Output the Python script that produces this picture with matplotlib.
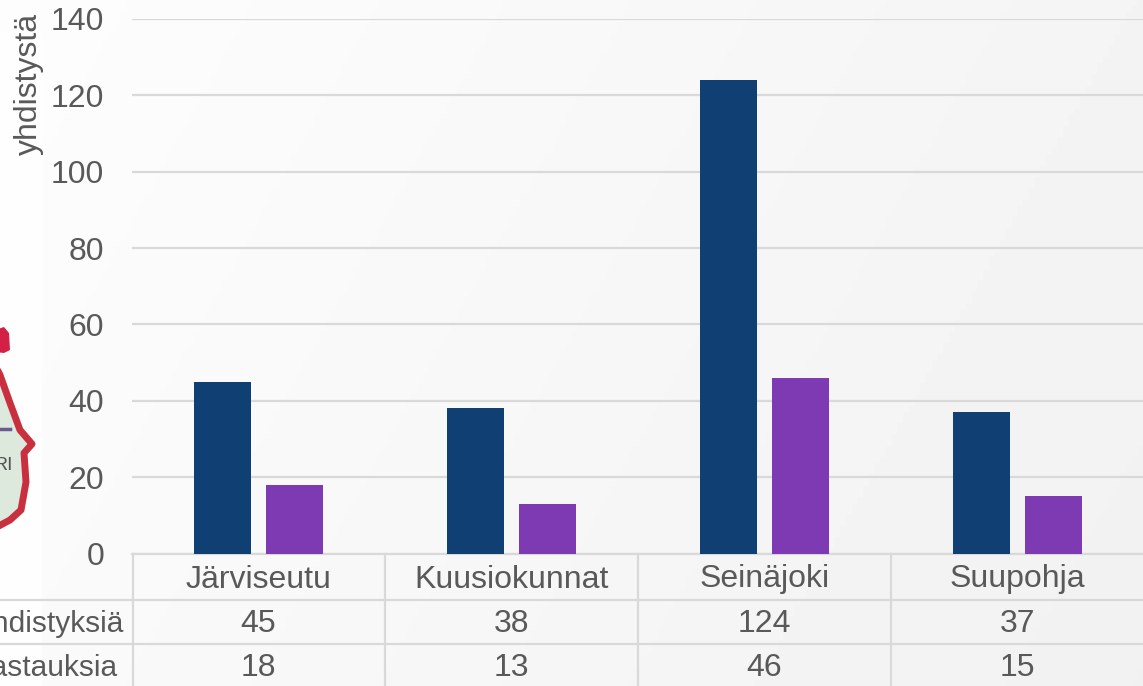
#!/usr/bin/env python3
import matplotlib
matplotlib.use("Agg")
import matplotlib.pyplot as plt
import numpy as np

W, H = 1143, 686

categories = ["Järviseutu", "Kuusiokunnat", "Seinäjoki", "Suupohja"]
series_names = ["Yhdistyksiä", "Vastauksia"]
yhdistyksia = [45, 38, 124, 37]
vastauksia = [18, 13, 46, 15]
y_ticks = [0, 20, 40, 60, 80, 100, 120, 140]

NAVY = "#0F3F73"
PURPLE = "#7D3AB2"
TEXT = "#595959"
GRID = "#D9D9D9"
FONT = 23
ROW_FONT = 21.5

plt.rcParams["font.family"] = ["Liberation Sans", "DejaVu Sans"]

fig = plt.figure(figsize=(W / 100, H / 100), dpi=100)

# taustakerros pikseleissä: liukuväri, logon reuna ja taulukon viivat
bg = fig.add_axes([0, 0, 1, 1])
bg.set_xlim(0, W)
bg.set_ylim(H, 0)
bg.axis("off")
xx, yy = np.meshgrid(np.linspace(0, 1, 200), np.linspace(0, 1, 120))
shade = 253 - 12 * (xx * 0.75 + yy * 0.25)
bg.imshow(shade, cmap="gray", vmin=0, vmax=255, extent=(0, W, H, 0), aspect="auto", zorder=0)
bg.fill_between([0, 42], 33, H, color="#FEFEFE", lw=0, zorder=1)

# logon pala vasemmassa reunassa
outline_x = [-5, 0, 10, 20, 32, 24, 26, 21, 10, -5]
outline_y = [365, 375, 403, 430, 444, 453, 482, 510, 520, 528]
bg.fill(outline_x, outline_y, color="#DDE9DD", lw=0, zorder=2)
bg.plot(outline_x, outline_y, color="#C9303F", lw=5, solid_joinstyle="round", zorder=3)
bg.fill([-5, 4, 9, 10, 4, -5], [330, 327, 333, 350, 353, 352], color="#D32044", lw=0, zorder=3)
bg.plot([-2, 10], [429, 429], color="#6A5A90", lw=2.5, zorder=3)
bg.text(13, 466, "RI", fontsize=14, color="#555555", va="center", ha="right", zorder=4)

# taulukko
for row_y in [553.5, 599.5, 643.5]:
    bg.plot([132 if row_y < 560 else 0, W], [row_y, row_y], color=GRID, lw=1.6, zorder=2)
for col_x in [132.5, 385, 638, 891]:
    bg.plot([col_x, col_x], [553.5, H], color=GRID, lw=1.6, zorder=2)
for i, cat in enumerate(categories):
    cx = 258.5 + 253 * i
    bg.text(cx, 576, cat, fontsize=FONT, color=TEXT, ha="center", va="center_baseline", zorder=5)
    bg.text(cx, 621, str(yhdistyksia[i]), fontsize=FONT, color=TEXT, ha="center", va="center_baseline", zorder=5)
    bg.text(cx, 665, str(vastauksia[i]), fontsize=FONT, color=TEXT, ha="center", va="center_baseline", zorder=5)
bg.text(124, 621, series_names[0], fontsize=ROW_FONT, color=TEXT, ha="right", va="center_baseline", zorder=5)
bg.text(118, 665, series_names[1], fontsize=ROW_FONT, color=TEXT, ha="right", va="center_baseline", zorder=5)

# pylväät
ax = fig.add_axes([132 / W, 1 - 553.5 / H, (W - 132) / W, (553.5 - 19) / H])
ax.patch.set_alpha(0)
x = np.arange(len(categories)) + 0.5
bar_w = 57 / 253
offset = 36 / 253
ax.bar(x - offset, yhdistyksia, bar_w, color=NAVY, zorder=3)
ax.bar(x + offset, vastauksia, bar_w, color=PURPLE, zorder=3)
ax.set_xlim(0, (W - 132) / 253)
ax.set_ylim(0, 140)
ax.set_yticks(y_ticks)
ax.set_xticks([])
ax.tick_params(axis="y", length=0, pad=20, labelsize=FONT, labelcolor=TEXT)
ax.grid(axis="y", color=GRID, lw=1.6, zorder=1)
ax.set_axisbelow(True)
for spine in ax.spines.values():
    spine.set_visible(False)

fig.text(29 / W, 1 - 84 / H, "yhdistystä", rotation=90, fontsize=FONT, color=TEXT, ha="center", va="center")

fig.savefig("out.png", dpi=100)
